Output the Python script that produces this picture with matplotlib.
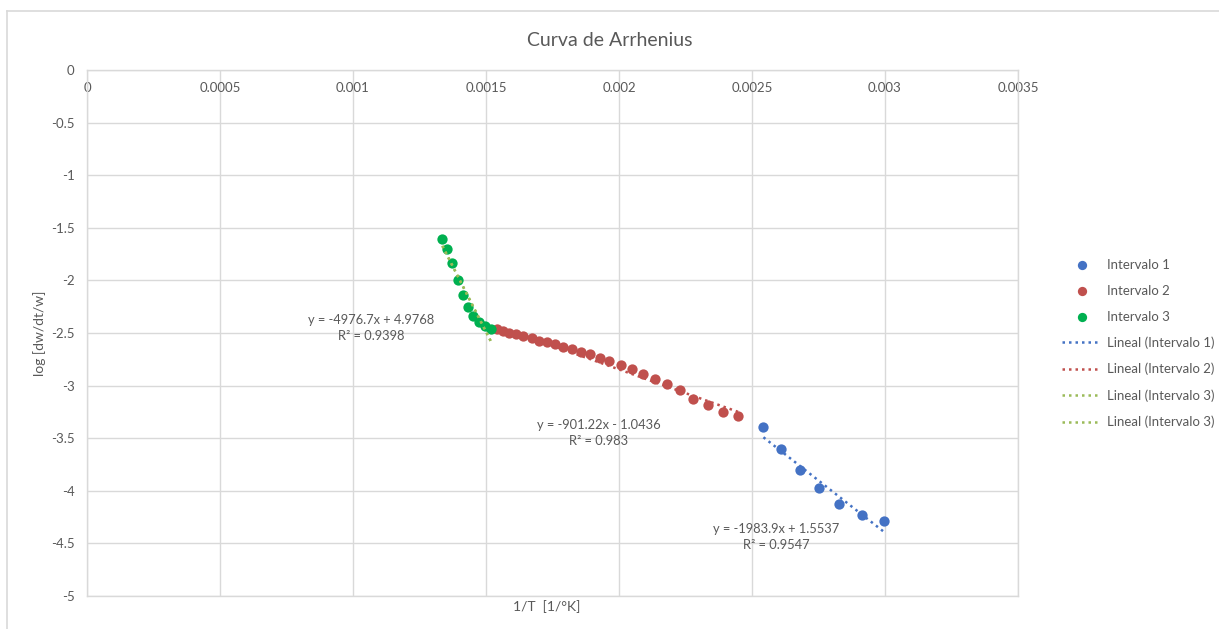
"""Curva de Arrhenius: log of the normalised mass-loss rate against 1/T,
split in three intervals, each with its linear (Excel-style) trendline."""

import numpy as np
import matplotlib
matplotlib.use("Agg")
import matplotlib.pyplot as plt
from matplotlib.lines import Line2D

inv_t_1 = [0.002543, 0.002608, 0.002679, 0.002751, 0.002828, 0.002912, 0.002996]
log_r_1 = [-3.396, -3.600, -3.802, -3.976, -4.123, -4.227, -4.284]

inv_t_2 = [0.001541, 0.001564, 0.001586, 0.001613, 0.001640, 0.001672, 0.001700,
           0.001728, 0.001759, 0.001791, 0.001822, 0.001857, 0.001891, 0.001929,
           0.001964, 0.002006, 0.002048, 0.002091, 0.002135, 0.002179, 0.002229,
           0.002279, 0.002333, 0.002390, 0.002448]
log_r_2 = [-2.462, -2.481, -2.497, -2.512, -2.529, -2.550, -2.573, -2.588,
           -2.607, -2.630, -2.652, -2.681, -2.702, -2.735, -2.769, -2.804,
           -2.842, -2.890, -2.934, -2.988, -3.042, -3.127, -3.184, -3.254, -3.289]

inv_t_3 = [0.001336, 0.001354, 0.001374, 0.001394, 0.001412, 0.001432,
           0.001452, 0.001474, 0.001496, 0.001519]
log_r_3 = [-1.606, -1.706, -1.832, -1.993, -2.137, -2.250, -2.336, -2.395,
           -2.436, -2.459]

# trendline coefficients as printed on the chart
slopes = [-1983.9, -901.22, -4976.7]
intercepts = [1.5537, -1.0436, 4.9768]
r2_values = ["0.9547", "0.983", "0.9398"]
eq_labels = ["y = -1983.9x + 1.5537", "y = -901.22x - 1.0436", "y = -4976.7x + 4.9768"]
eq_pos = [(0.002590, -4.44), (0.001925, -3.45), (0.001068, -2.457)]  # centre of each label

series_names = ["Intervalo 1", "Intervalo 2", "Intervalo 3"]
x_ticks = [0, 0.0005, 0.001, 0.0015, 0.002, 0.0025, 0.003, 0.0035]
x_tick_labels = ["0", "0.0005", "0.001", "0.0015", "0.002", "0.0025", "0.003", "0.0035"]
y_ticks = [0, -0.5, -1, -1.5, -2, -2.5, -3, -3.5, -4, -4.5, -5]

COLORS = ["#4472C4", "#C0504D", "#00B050"]
TREND_COLORS = ["#4472C4", "#C0504D", "#9BBB59"]
GREY = "#595959"
GRID = "#D9D9D9"
FONT = ["Lato", "DejaVu Sans"]

plt.rcParams["font.family"] = FONT

fig = plt.figure(figsize=(12.19, 6.29), dpi=100)
W, H = 1219, 629
# plot area in pixels: left 87, right 1018, top 70, bottom 596
ax = fig.add_axes([87 / W, 1 - 596 / H, (1018 - 87) / W, (596 - 70) / H])

# outer chart frame (only left/top edges are visible in the crop)
fig.add_artist(Line2D([7 / W, 1], [1 - 11 / H, 1 - 11 / H], color=GRID, lw=1.2))
fig.add_artist(Line2D([7 / W, 7 / W], [0, 1 - 11 / H], color=GRID, lw=1.2))

xs = [inv_t_1, inv_t_2, inv_t_3]
ys = [log_r_1, log_r_2, log_r_3]

points = []
for x, y, c, name in zip(xs, ys, COLORS, series_names):
    h = ax.scatter(x, y, s=55, color=c, zorder=3, label=name, linewidths=0)
    points.append(h)

trends = []
for i, (x, m, b) in enumerate(zip(xs, slopes, intercepts)):
    xx = np.array([min(x), max(x)])
    ln, = ax.plot(xx, m * xx + b, linestyle=(0, (1, 1.6)), color=TREND_COLORS[i],
                  lw=1.8, zorder=4, label=f"Lineal ({series_names[i]})")
    trends.append(ln)
# the third interval carries two identical trendlines
xx = np.array([min(inv_t_3), max(inv_t_3)])
ln, = ax.plot(xx, slopes[2] * xx + intercepts[2], linestyle=(0, (1, 1.6)),
              color=TREND_COLORS[2], lw=1.8, zorder=4, label="Lineal (Intervalo 3)")
trends.append(ln)

for (ex, ey), eq, r2 in zip(eq_pos, eq_labels, r2_values):
    ax.text(ex, ey, f"{eq}\nR² = {r2}", ha="center", va="center", fontsize=9.3,
            color=GREY, linespacing=1.4, zorder=5)

ax.set_xlim(0, 0.0035)
ax.set_ylim(-5, 0)
ax.set_xticks(x_ticks)
ax.set_xticklabels(x_tick_labels)
ax.set_yticks(y_ticks)
ax.set_yticklabels([f"{v:g}" for v in y_ticks])
ax.tick_params(axis="x", top=False, bottom=False, labeltop=True, labelbottom=False,
               pad=-17, labelsize=9.5, labelcolor=GREY, length=0)
ax.tick_params(axis="y", left=False, labelsize=9.5, labelcolor=GREY, length=0, pad=9)
ax.grid(True, color=GRID, lw=1)
ax.set_axisbelow(True)
for s in ax.spines.values():
    s.set_color(GRID)
    s.set_linewidth(1)

fig.text(547 / W, 1 - 607 / H, "1/T  [1/°K]", ha="center", va="center",
         fontsize=10, color=GREY)
fig.text(40 / W, 1 - 333 / H, "log [dw/dt/w]", ha="center", va="center",
         rotation=90, fontsize=10, color=GREY)
fig.text(0.5, 1 - 40 / H, "Curva de Arrhenius", ha="center", va="center",
         fontsize=14, color=GREY)

leg = fig.legend(points + trends, [h.get_label() for h in points + trends],
                 loc="upper left", bbox_to_anchor=(1050 / W, 1 - 247 / H),
                 frameon=False, fontsize=9.5, handlelength=3.0, handletextpad=0.45,
                 labelspacing=1.05, markerscale=0.9)
for t in leg.get_texts():
    t.set_color(GREY)

fig.savefig("out.png", dpi=100, facecolor="white")
